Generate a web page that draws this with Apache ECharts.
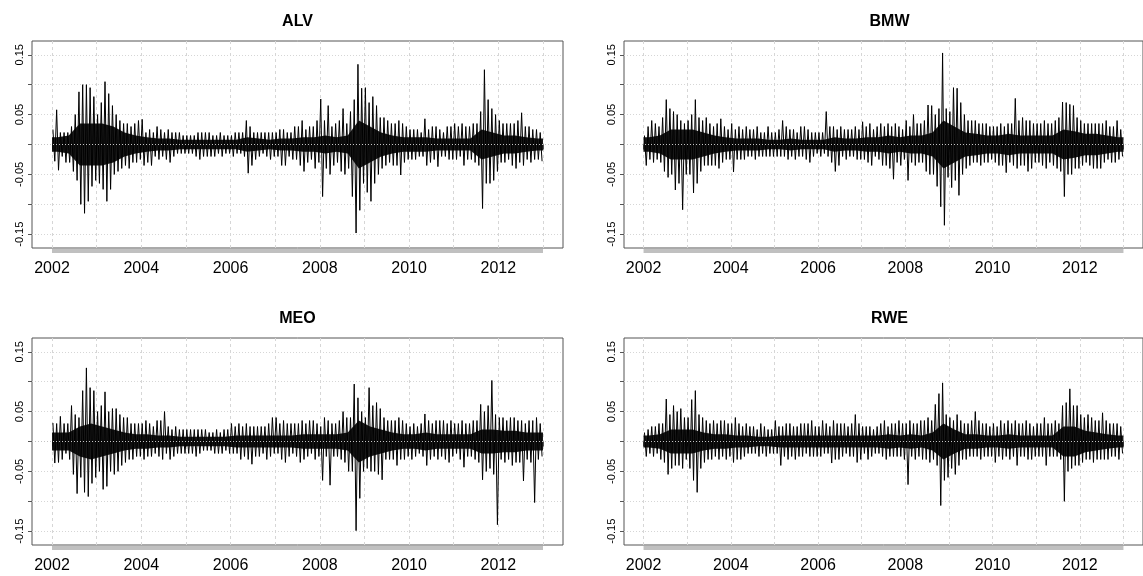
<!DOCTYPE html>
<html>
<head>
<meta charset="utf-8">
<script src="https://cdn.jsdelivr.net/npm/echarts@6/dist/echarts.min.js"></script>
<style>
  html, body { margin: 0; background: #fff; }
  #chart { width: 1143px; height: 576px; }
</style>
</head>
<body>
<div id="chart"></div>
<script>
const alvHi = [
  0.025, 0.058, 0.02, 0.02, 0.02, 0.03, 0.05, 0.088, 0.10, 0.10, 0.095, 0.08,
  0.05, 0.07, 0.105, 0.085, 0.065, 0.05, 0.04, 0.035, 0.035, 0.03, 0.035, 0.04,
  0.042, 0.02, 0.025, 0.02, 0.03, 0.025, 0.02, 0.025, 0.02, 0.02, 0.02, 0.015,
  0.015, 0.015, 0.015, 0.02, 0.02, 0.02, 0.02, 0.015, 0.015, 0.02, 0.015, 0.015,
  0.015, 0.02, 0.02, 0.02, 0.04, 0.03, 0.02, 0.02, 0.02, 0.02, 0.02, 0.02,
  0.02, 0.025, 0.025, 0.02, 0.02, 0.03, 0.03, 0.04, 0.025, 0.03, 0.03, 0.04,
  0.076, 0.04, 0.065, 0.03, 0.035, 0.04, 0.06, 0.035, 0.055, 0.075, 0.134, 0.094,
  0.095, 0.07, 0.08, 0.065, 0.045, 0.045, 0.04, 0.035, 0.035, 0.04, 0.035, 0.03,
  0.025, 0.025, 0.025, 0.02, 0.043, 0.025, 0.03, 0.03, 0.025, 0.02, 0.03, 0.03,
  0.035, 0.03, 0.035, 0.03, 0.03, 0.035, 0.035, 0.055, 0.125, 0.075, 0.06, 0.05,
  0.04, 0.035, 0.035, 0.035, 0.035, 0.04, 0.053, 0.03, 0.03, 0.025, 0.025, 0.02
];
const alvLo = [
  -0.028, -0.043, -0.02, -0.03, -0.03, -0.045, -0.06, -0.10, -0.115, -0.095, -0.07, -0.06,
  -0.065, -0.075, -0.095, -0.075, -0.05, -0.045, -0.04, -0.035, -0.04, -0.03, -0.03, -0.025,
  -0.035, -0.03, -0.035, -0.02, -0.025, -0.02, -0.025, -0.03, -0.02, -0.015, -0.015, -0.015,
  -0.015, -0.015, -0.02, -0.025, -0.02, -0.02, -0.02, -0.02, -0.015, -0.02, -0.015, -0.015,
  -0.02, -0.015, -0.015, -0.02, -0.048, -0.035, -0.025, -0.02, -0.015, -0.02, -0.025, -0.02,
  -0.02, -0.035, -0.035, -0.02, -0.025, -0.025, -0.035, -0.045, -0.03, -0.025, -0.04, -0.03,
  -0.087, -0.04, -0.05, -0.035, -0.03, -0.045, -0.05, -0.04, -0.087, -0.148, -0.11, -0.065,
  -0.08, -0.095, -0.065, -0.05, -0.04, -0.035, -0.03, -0.035, -0.035, -0.051, -0.03, -0.025,
  -0.025, -0.025, -0.02, -0.02, -0.035, -0.03, -0.025, -0.037, -0.02, -0.02, -0.025, -0.025,
  -0.025, -0.02, -0.035, -0.025, -0.025, -0.03, -0.035, -0.107, -0.065, -0.065, -0.06, -0.045,
  -0.03, -0.03, -0.025, -0.035, -0.04, -0.03, -0.035, -0.025, -0.03, -0.025, -0.025, -0.028
];
const bmwHi = [
  0.015, 0.03, 0.04, 0.035, 0.03, 0.045, 0.075, 0.06, 0.055, 0.05, 0.04, 0.035,
  0.04, 0.05, 0.075, 0.045, 0.04, 0.045, 0.035, 0.03, 0.035, 0.043, 0.03, 0.025,
  0.035, 0.025, 0.03, 0.025, 0.03, 0.025, 0.025, 0.03, 0.02, 0.02, 0.03, 0.02,
  0.02, 0.025, 0.04, 0.03, 0.025, 0.025, 0.02, 0.03, 0.03, 0.025, 0.02, 0.02,
  0.02, 0.02, 0.055, 0.03, 0.03, 0.025, 0.03, 0.025, 0.025, 0.025, 0.03, 0.025,
  0.038, 0.03, 0.035, 0.025, 0.03, 0.035, 0.03, 0.035, 0.03, 0.035, 0.03, 0.025,
  0.04, 0.03, 0.05, 0.035, 0.035, 0.04, 0.066, 0.065, 0.05, 0.06, 0.153, 0.06,
  0.055, 0.095, 0.094, 0.07, 0.05, 0.04, 0.04, 0.04, 0.035, 0.035, 0.035, 0.03,
  0.03, 0.03, 0.035, 0.03, 0.035, 0.035, 0.077, 0.04, 0.045, 0.04, 0.04, 0.035,
  0.035, 0.035, 0.04, 0.035, 0.035, 0.04, 0.045, 0.071, 0.07, 0.067, 0.065, 0.045,
  0.04, 0.035, 0.035, 0.035, 0.035, 0.035, 0.035, 0.04, 0.03, 0.03, 0.04, 0.025
];
const bmwLo = [
  -0.035, -0.025, -0.03, -0.025, -0.03, -0.045, -0.055, -0.05, -0.076, -0.065, -0.109, -0.05,
  -0.05, -0.081, -0.065, -0.045, -0.035, -0.035, -0.035, -0.035, -0.04, -0.03, -0.025, -0.025,
  -0.046, -0.025, -0.025, -0.025, -0.02, -0.02, -0.025, -0.02, -0.02, -0.02, -0.02, -0.02,
  -0.02, -0.02, -0.02, -0.025, -0.02, -0.025, -0.02, -0.02, -0.025, -0.03, -0.02, -0.015,
  -0.02, -0.015, -0.02, -0.03, -0.045, -0.035, -0.02, -0.025, -0.02, -0.02, -0.025, -0.025,
  -0.025, -0.03, -0.035, -0.02, -0.025, -0.035, -0.035, -0.04, -0.058, -0.03, -0.035, -0.025,
  -0.06, -0.03, -0.035, -0.03, -0.03, -0.045, -0.05, -0.05, -0.07, -0.104, -0.135, -0.055,
  -0.072, -0.06, -0.085, -0.05, -0.04, -0.035, -0.03, -0.03, -0.035, -0.03, -0.03, -0.025,
  -0.03, -0.035, -0.035, -0.047, -0.03, -0.035, -0.04, -0.035, -0.035, -0.045, -0.04, -0.03,
  -0.03, -0.035, -0.04, -0.03, -0.035, -0.04, -0.045, -0.087, -0.05, -0.05, -0.04, -0.04,
  -0.035, -0.03, -0.035, -0.04, -0.04, -0.04, -0.03, -0.025, -0.03, -0.03, -0.025, -0.02
];
const meoHi = [
  0.031, 0.03, 0.042, 0.03, 0.03, 0.06, 0.045, 0.04, 0.085, 0.123, 0.09, 0.085,
  0.05, 0.06, 0.083, 0.05, 0.055, 0.055, 0.045, 0.04, 0.04, 0.03, 0.03, 0.03,
  0.03, 0.035, 0.03, 0.025, 0.035, 0.035, 0.05, 0.025, 0.02, 0.025, 0.02, 0.02,
  0.02, 0.02, 0.02, 0.02, 0.02, 0.02, 0.015, 0.015, 0.02, 0.015, 0.02, 0.02,
  0.03, 0.025, 0.03, 0.025, 0.03, 0.025, 0.025, 0.025, 0.025, 0.025, 0.03, 0.04,
  0.04, 0.03, 0.035, 0.03, 0.03, 0.03, 0.03, 0.035, 0.03, 0.035, 0.035, 0.03,
  0.025, 0.04, 0.035, 0.03, 0.03, 0.035, 0.05, 0.04, 0.04, 0.096, 0.073, 0.05,
  0.04, 0.09, 0.06, 0.065, 0.055, 0.04, 0.035, 0.035, 0.035, 0.04, 0.035, 0.03,
  0.025, 0.03, 0.025, 0.03, 0.046, 0.035, 0.03, 0.035, 0.035, 0.035, 0.03, 0.035,
  0.03, 0.03, 0.035, 0.03, 0.03, 0.035, 0.035, 0.062, 0.05, 0.06, 0.102, 0.045,
  0.04, 0.04, 0.035, 0.04, 0.04, 0.035, 0.035, 0.03, 0.035, 0.035, 0.04, 0.03
];
const meoLo = [
  -0.036, -0.035, -0.03, -0.02, -0.03, -0.055, -0.087, -0.06, -0.085, -0.092, -0.07, -0.06,
  -0.05, -0.08, -0.075, -0.05, -0.055, -0.05, -0.04, -0.035, -0.03, -0.03, -0.025, -0.025,
  -0.03, -0.025, -0.025, -0.02, -0.025, -0.03, -0.02, -0.03, -0.025, -0.02, -0.02, -0.02,
  -0.02, -0.02, -0.025, -0.02, -0.015, -0.015, -0.015, -0.02, -0.02, -0.02, -0.015, -0.02,
  -0.02, -0.02, -0.03, -0.025, -0.03, -0.038, -0.025, -0.025, -0.02, -0.03, -0.025, -0.02,
  -0.02, -0.03, -0.035, -0.025, -0.02, -0.025, -0.035, -0.03, -0.025, -0.02, -0.03, -0.025,
  -0.065, -0.025, -0.073, -0.025, -0.025, -0.03, -0.035, -0.05, -0.05, -0.149, -0.095, -0.05,
  -0.045, -0.05, -0.05, -0.055, -0.064, -0.03, -0.03, -0.03, -0.04, -0.03, -0.03, -0.025,
  -0.03, -0.025, -0.02, -0.025, -0.04, -0.03, -0.025, -0.03, -0.025, -0.03, -0.035, -0.025,
  -0.02, -0.03, -0.043, -0.025, -0.025, -0.03, -0.035, -0.064, -0.05, -0.045, -0.055, -0.139,
  -0.03, -0.035, -0.03, -0.04, -0.035, -0.035, -0.066, -0.03, -0.035, -0.102, -0.03, -0.025
];
const rweHi = [
  0.015, 0.02, 0.025, 0.025, 0.03, 0.03, 0.071, 0.045, 0.06, 0.05, 0.055, 0.04,
  0.04, 0.07, 0.085, 0.045, 0.04, 0.035, 0.03, 0.035, 0.03, 0.035, 0.035, 0.03,
  0.03, 0.04, 0.03, 0.025, 0.03, 0.025, 0.025, 0.02, 0.03, 0.025, 0.02, 0.02,
  0.035, 0.025, 0.025, 0.03, 0.03, 0.025, 0.025, 0.03, 0.03, 0.03, 0.035, 0.025,
  0.025, 0.035, 0.03, 0.025, 0.035, 0.03, 0.03, 0.03, 0.025, 0.03, 0.045, 0.03,
  0.025, 0.025, 0.025, 0.02, 0.025, 0.03, 0.035, 0.025, 0.03, 0.03, 0.035, 0.03,
  0.03, 0.035, 0.03, 0.03, 0.035, 0.035, 0.04, 0.035, 0.062, 0.08, 0.098, 0.045,
  0.04, 0.035, 0.045, 0.035, 0.03, 0.03, 0.035, 0.05, 0.035, 0.03, 0.03, 0.025,
  0.03, 0.025, 0.035, 0.03, 0.035, 0.03, 0.035, 0.03, 0.03, 0.035, 0.03, 0.025,
  0.03, 0.03, 0.04, 0.03, 0.03, 0.035, 0.03, 0.06, 0.065, 0.088, 0.06, 0.06,
  0.045, 0.04, 0.045, 0.04, 0.035, 0.035, 0.048, 0.035, 0.03, 0.03, 0.03, 0.025
];
const rweLo = [
  -0.025, -0.02, -0.025, -0.02, -0.03, -0.035, -0.055, -0.045, -0.04, -0.04, -0.045, -0.03,
  -0.045, -0.065, -0.085, -0.045, -0.035, -0.03, -0.03, -0.025, -0.03, -0.025, -0.03, -0.025,
  -0.035, -0.03, -0.03, -0.025, -0.02, -0.02, -0.02, -0.025, -0.02, -0.025, -0.02, -0.02,
  -0.02, -0.04, -0.025, -0.03, -0.025, -0.03, -0.025, -0.025, -0.02, -0.025, -0.025, -0.025,
  -0.025, -0.02, -0.02, -0.036, -0.03, -0.03, -0.025, -0.02, -0.025, -0.025, -0.035, -0.03,
  -0.02, -0.03, -0.025, -0.02, -0.02, -0.025, -0.03, -0.025, -0.025, -0.025, -0.025, -0.03,
  -0.072, -0.025, -0.03, -0.025, -0.03, -0.03, -0.035, -0.03, -0.04, -0.107, -0.065, -0.06,
  -0.045, -0.055, -0.04, -0.03, -0.03, -0.025, -0.025, -0.025, -0.03, -0.025, -0.025, -0.025,
  -0.035, -0.025, -0.03, -0.025, -0.03, -0.025, -0.04, -0.025, -0.025, -0.03, -0.03, -0.025,
  -0.025, -0.025, -0.04, -0.025, -0.025, -0.025, -0.03, -0.10, -0.05, -0.045, -0.04, -0.04,
  -0.035, -0.03, -0.03, -0.035, -0.03, -0.03, -0.03, -0.03, -0.025, -0.025, -0.03, -0.02
];

// half-width of the dense core of daily returns, per quarter, 2002 Q1 .. 2012 Q4
const alvCore = [
  0.012, 0.015, 0.035, 0.035, 0.035, 0.03, 0.02, 0.015, 0.012, 0.01, 0.01, 0.008,
  0.008, 0.008, 0.008, 0.008, 0.008, 0.012, 0.01, 0.008, 0.01, 0.01, 0.012, 0.012,
  0.015, 0.012, 0.015, 0.04, 0.03, 0.02, 0.015, 0.012, 0.012, 0.012, 0.01, 0.01,
  0.01, 0.01, 0.025, 0.02, 0.015, 0.015, 0.012, 0.01
];
const bmwCore = [
  0.012, 0.015, 0.025, 0.025, 0.025, 0.02, 0.015, 0.012, 0.01, 0.01, 0.01, 0.008,
  0.008, 0.01, 0.008, 0.008, 0.008, 0.012, 0.01, 0.01, 0.012, 0.012, 0.015, 0.012,
  0.015, 0.015, 0.02, 0.04, 0.03, 0.02, 0.018, 0.015, 0.015, 0.018, 0.015, 0.015,
  0.015, 0.015, 0.025, 0.022, 0.018, 0.018, 0.015, 0.012
];
const meoCore = [
  0.015, 0.015, 0.025, 0.03, 0.025, 0.02, 0.015, 0.012, 0.012, 0.01, 0.01, 0.008,
  0.008, 0.008, 0.008, 0.008, 0.01, 0.01, 0.01, 0.01, 0.01, 0.01, 0.012, 0.012,
  0.012, 0.012, 0.015, 0.035, 0.025, 0.02, 0.015, 0.012, 0.012, 0.015, 0.012, 0.012,
  0.012, 0.012, 0.02, 0.02, 0.018, 0.018, 0.015, 0.015
];
const rweCore = [
  0.01, 0.012, 0.02, 0.02, 0.02, 0.015, 0.012, 0.012, 0.01, 0.01, 0.008, 0.008,
  0.01, 0.01, 0.01, 0.01, 0.01, 0.01, 0.01, 0.01, 0.01, 0.01, 0.012, 0.01,
  0.012, 0.01, 0.015, 0.03, 0.02, 0.012, 0.012, 0.01, 0.01, 0.012, 0.01, 0.01,
  0.01, 0.01, 0.025, 0.025, 0.018, 0.015, 0.012, 0.01
];

const names = ['ALV', 'BMW', 'MEO', 'RWE'];
const highs = [alvHi, bmwHi, meoHi, rweHi];
const lows = [alvLo, bmwLo, meoLo, rweLo];
const cores = [alvCore, bmwCore, meoCore, rweCore];

const yearTicks = [2002, 2003, 2004, 2005, 2006, 2007, 2008, 2009, 2010, 2011, 2012, 2013];
const yearLabels = [2002, 2004, 2006, 2008, 2010, 2012];
const yTicks = [-0.15, -0.1, -0.05, 0, 0.05, 0.1, 0.15];
const yLabels = [-0.15, -0.05, 0.05, 0.15];

const xMin = 2001.552, xMax = 2013.448;
const yMin = -0.173, yMax = 0.173;

const panels = [
  { left: 32, top: 41 },
  { left: 624, top: 41 },
  { left: 32, top: 338 },
  { left: 624, top: 338 }
];
const panelW = 531, panelH = 207;

const start = yearTicks[0], end = yearTicks[yearTicks.length - 1];

// zigzag: month high, then month low
function zigzag(hi, lo) {
  const out = [];
  for (let i = 0; i < hi.length; i++) {
    out.push([start + (i + 0.25) / 12, hi[i]]);
    out.push([start + (i + 0.75) / 12, lo[i]]);
  }
  return out;
}

// core band points: quarter centres, held flat to the ends of the period
function coreData(core) {
  const pts = [[start, core[0]]];
  core.forEach((c, q) => pts.push([start + (q + 0.5) / 4, c]));
  pts.push([end, core[core.length - 1]]);
  return pts;
}

const chart = echarts.init(document.getElementById('chart'));

const option = {
  animation: false,
  backgroundColor: '#fff',
  title: panels.map((p, i) => ({
    text: names[i],
    left: p.left + panelW / 2,
    top: p.top - 27,
    textAlign: 'center',
    padding: 0,
    textStyle: { fontFamily: 'Liberation Sans, Arial', fontSize: 16, fontWeight: 'bold', color: '#000' }
  })),
  grid: panels.map(p => ({
    left: p.left, top: p.top, width: panelW, height: panelH,
    show: true, borderColor: '#555', borderWidth: 1, backgroundColor: 'transparent'
  })),
  xAxis: panels.map((p, i) => ({
    type: 'value', gridIndex: i, min: xMin, max: xMax, z: 1.5,
    axisLine: { show: false },
    axisTick: { show: true, customValues: yearTicks, length: 5, lineStyle: { color: '#555' } },
    axisLabel: {
      customValues: yearLabels, margin: 13,
      fontFamily: 'Liberation Sans, Arial', fontSize: 16, color: '#000',
      formatter: v => String(Math.round(v))
    },
    splitLine: { show: true, lineStyle: { color: '#d6d6d6', type: [3, 3], width: 1 } }
  })),
  yAxis: panels.map((p, i) => ({
    type: 'value', gridIndex: i, min: yMin, max: yMax, z: 1.5,
    axisLine: { show: false },
    axisTick: { show: true, customValues: yTicks, length: 4, lineStyle: { color: '#555' } },
    axisLabel: {
      customValues: yLabels, rotate: 90, margin: 7,
      fontFamily: 'Liberation Sans, Arial', fontSize: 11, color: '#000',
      formatter: v => v.toFixed(2)
    },
    splitLine: { show: true, lineStyle: { color: '#d6d6d6', type: [1, 2], width: 1 } }
  })),
  series: []
};

panels.forEach((p, i) => {
  // grey bar under the time axis, spanning the data period
  option.series.push({
    type: 'line', xAxisIndex: i, yAxisIndex: i, z: 1,
    data: [[start, yMin - 0.005], [end, yMin - 0.005]],
    symbol: 'none', clip: false, silent: true,
    lineStyle: { color: '#c0c0c0', width: 4 }
  });
  // dense core of the daily returns: band from -core to +core
  const cd = coreData(cores[i]);
  option.series.push({
    type: 'custom', xAxisIndex: i, yAxisIndex: i, z: 2, silent: true,
    data: cd,
    renderItem: (params, api) => {
      if (params.dataIndex !== 0) return null;
      const pts = cd.map(d => api.coord([d[0], d[1]]));
      for (let k = cd.length - 1; k >= 0; k--) pts.push(api.coord([cd[k][0], -cd[k][1]]));
      return {
        type: 'polygon',
        shape: { points: pts },
        style: { fill: '#000', opacity: 0.9 }
      };
    }
  });
  // monthly extremes of the daily returns
  option.series.push({
    name: names[i], type: 'line', xAxisIndex: i, yAxisIndex: i, z: 3,
    data: zigzag(highs[i], lows[i]),
    symbol: 'none', clip: false, sampling: null,
    lineStyle: { color: '#000', width: 1 },
    markLine: {
      silent: true, symbol: 'none', label: { show: false },
      lineStyle: { color: '#c4c4c4', type: [1, 2], width: 1 },
      data: [{ yAxis: 0 }]
    }
  });
});

chart.setOption(option);
</script>
</body>
</html>
